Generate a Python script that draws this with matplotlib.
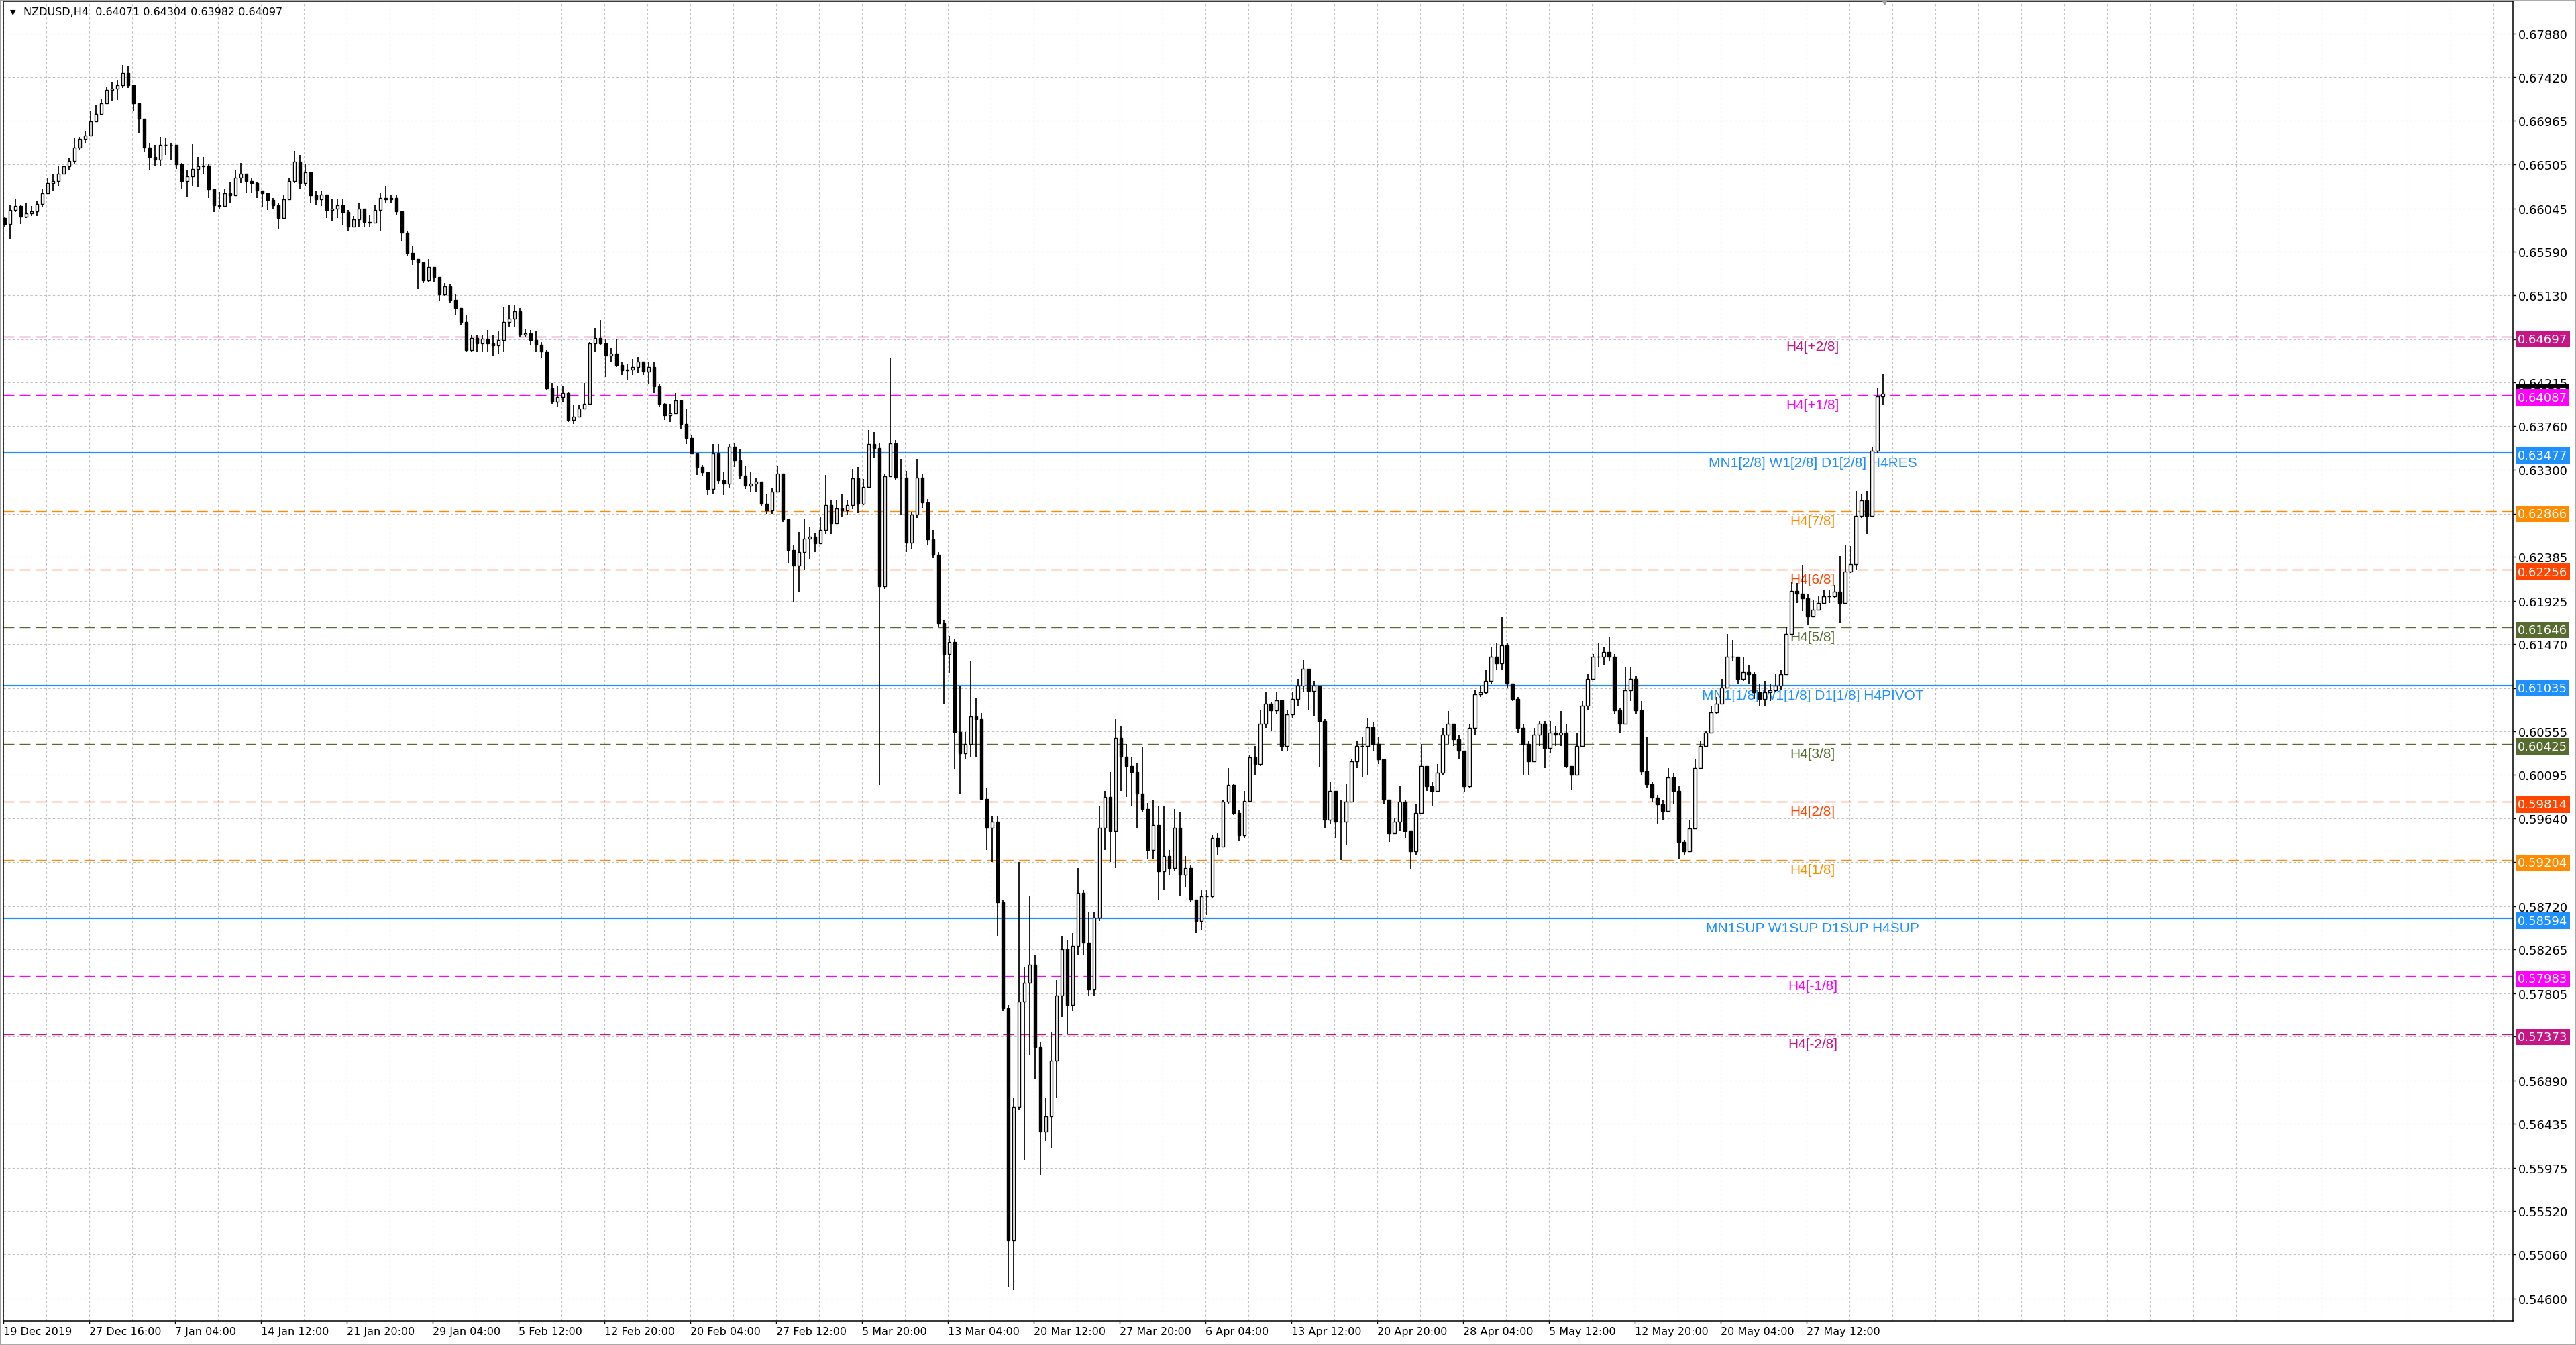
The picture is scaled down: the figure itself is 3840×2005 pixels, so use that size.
import matplotlib
matplotlib.use("Agg")
import matplotlib.pyplot as plt
from matplotlib.transforms import blended_transform_factory
from matplotlib.patches import Rectangle

header = "NZDUSD,H4  0.64071 0.64304 0.63982 0.64097"

# one candle per two H4 bars, prices in 1e-5
first_open = 65942
closes = [
    65879, 66030, 66068, 65955, 65992, 66017, 66093, 66206, 66307, 66332, 66407, 66483, 66545, 66684, 66772, 66809,
    66960, 67036, 67149, 67287, 67300, 67337, 67463, 67337, 67149, 66985, 66684, 66583, 66558, 66709, 66709, 66709,
    66508, 66332, 66382, 66457, 66483, 66495, 66244, 66080, 66068, 66206, 66181, 66369, 66407, 66332, 66307, 66231,
    66206, 66131, 66080, 65942, 66143, 66332, 66533, 66307, 66420, 66181, 66143, 66193, 66030, 66043, 66080, 66005,
    65854, 65930, 66043, 65904, 65892, 66030, 66156, 66143, 66156, 66017, 65791, 65578, 65515, 65477, 65288, 65427,
    65326, 65138, 65226, 65087, 64999, 64850, 64556, 64685, 64626, 64673, 64626, 64603, 64662, 64850, 64885, 64968,
    64720, 64732, 64662, 64615, 64544, 64155, 64014, 64061, 64108, 63826, 63861, 63943, 63990, 64626, 64685, 64626,
    64497, 64520, 64403, 64344, 64355, 64379, 64438, 64332, 64379, 64179, 63990, 63873, 63896, 64026, 63778, 63637,
    63472, 63331, 63272, 63096, 63472, 63190, 63154, 63543, 63402, 63237, 63131, 63154, 63178, 62942, 62872, 63072,
    63260, 62778, 62460, 62295, 62436, 62577, 62601, 62530, 62672, 62931, 62742, 62895, 62872, 62931, 63213, 62942,
    63119, 63567, 63531, 62080, 63233, 63578, 63220, 63220, 62536, 62829, 63220, 62959, 62569, 62406, 61689, 61364,
    61494, 60550, 60322, 60419, 60712, 60680, 59846, 59540, 59605, 58759, 57651, 55209, 56609, 57717, 57912, 58107,
    57241, 56349, 56512, 57098, 57782, 58270, 57684, 58303, 58856, 58335, 57847, 58596, 59540, 59866, 59508, 60485,
    60289, 60191, 60126, 59898, 59736, 59312, 59573, 59084, 59247, 59117, 59540, 59052, 59117, 58791, 58563, 58824,
    58824, 59439, 59345, 59814, 59990, 59697, 59462, 59826, 60284, 60213, 60636, 60847, 60777, 60883, 60401, 60730,
    60894, 61035, 61211, 60977, 61035, 60660, 59627, 59932, 59603, 59603, 59814, 60237, 60401, 60401, 60601, 60425,
    60260, 59838, 59486, 59603, 59814, 59509, 59298, 59697, 60190, 59979, 59932, 60120, 60519, 60636, 60472, 60354,
    59979, 60589, 60941, 60965, 61082, 61341, 61270, 61458, 61059, 60894, 60589, 60425, 60237, 60519, 60636, 60378,
    60542, 60519, 60542, 60190, 60096, 60401, 60824, 61106, 61341, 61341, 61388, 61341, 60777, 60636, 60988, 61106,
    60777, 60131, 60002, 59861, 59791, 59720, 60073, 59932, 59392, 59298, 59533, 60167, 60401, 60542, 60754, 60847,
    61012, 61341, 61341, 61106, 61176, 61153, 60965, 60894, 60965, 60988, 61035, 61153, 61575, 62030, 62000, 61950,
    61763, 61834, 61904, 61975, 61975, 62022, 61904, 62229, 62311, 62817, 62981, 62817, 63498, 64071, 64097,
]
highs = [
    65955, 66080, 66143, 66080, 66105, 66068, 66118, 66244, 66369, 66407, 66483, 66495, 66571, 66784, 66797, 66860,
    67073, 67136, 67199, 67325, 67375, 67388, 67551, 67538, 67249, 67136, 66985, 66734, 66709, 66797, 66784, 66734,
    66709, 66520, 66445, 66721, 66583, 66583, 66508, 66206, 66219, 66256, 66319, 66445, 66520, 66407, 66357, 66319,
    66231, 66206, 66156, 66105, 66193, 66369, 66646, 66608, 66508, 66420, 66231, 66231, 66156, 66143, 66143, 66143,
    66030, 65967, 66105, 65992, 65980, 66080, 66206, 66281, 66193, 66181, 65955, 65804, 65653, 65502, 65452, 65515,
    65376, 65326, 65263, 65251, 65138, 64980, 64921, 64709, 64720, 64720, 64768, 64720, 64756, 65015, 65027, 65027,
    65003, 64779, 64768, 64756, 64638, 64556, 64214, 64179, 64179, 64120, 63979, 63979, 64214, 64638, 64791, 64874,
    64673, 64579, 64673, 64438, 64414, 64461, 64485, 64414, 64426, 64426, 64202, 64002, 63990, 64108, 64038, 63943,
    63672, 63449, 63355, 63260, 63567, 63567, 63284, 63567, 63578, 63519, 63343, 63284, 63213, 63072, 63048, 63107,
    63343, 63237, 62625, 62507, 62648, 62778, 62695, 62636, 62813, 63249, 62978, 62978, 63048, 62978, 63307, 63331,
    63201, 63720, 63696, 63578, 63253, 64470, 63611, 63415, 63285, 62862, 63415, 63253, 62992, 62666, 62438, 61722,
    61559, 61527, 61038, 60550, 61299, 60908, 60745, 59963, 59670, 59670, 58791, 57684, 56707, 59182, 58075, 58824,
    58205, 57293, 56707, 57391, 57945, 58400, 58368, 58433, 59117, 58889, 58661, 58661, 59768, 59931, 60126, 60680,
    60615, 60419, 60289, 60224, 60387, 59801, 59833, 59768, 59768, 59312, 59736, 59703, 59247, 59149, 58791, 58889,
    58889, 59462, 59486, 59838, 60167, 60002, 59732, 59932, 60307, 60401, 60777, 60965, 60859, 60965, 60871, 60777,
    60965, 61106, 61305, 61071, 61082, 61012, 60683, 60026, 59744, 59838, 60002, 60260, 60448, 60495, 60695, 60648,
    60495, 60260, 59838, 59650, 59979, 59838, 59509, 59791, 60425, 60096, 60026, 60213, 60589, 60765, 60636, 60519,
    60354, 60636, 60988, 61035, 61200, 61434, 61481, 61751, 61481, 61059, 60918, 60636, 60448, 60589, 60660, 60660,
    60660, 60613, 60765, 60636, 60190, 60542, 60871, 61153, 61364, 61481, 61434, 61552, 61364, 60801, 61235, 61223,
    61141, 60871, 60495, 60026, 59885, 59838, 60167, 60120, 59979, 59415, 59627, 60260, 60448, 60566, 60824, 60918,
    61106, 61575, 61517, 61317, 61341, 61247, 61176, 61059, 61082, 61059, 61153, 61200, 61646, 62120, 62110, 62300,
    61990, 61928, 61975, 62045, 62045, 62092, 62394, 62511, 62499, 63075, 63052, 63075, 63545, 64157, 64304,
]
lows = [
    65854, 65728, 66005, 65879, 65942, 65967, 65967, 66055, 66231, 66231, 66281, 66407, 66445, 66508, 66659, 66734,
    66847, 66948, 67061, 67161, 67174, 67186, 67312, 67312, 67061, 66834, 66633, 66445, 66483, 66495, 66608, 66558,
    66457, 66244, 66168, 66281, 66269, 66407, 66156, 66005, 66043, 66080, 66105, 66307, 66307, 66206, 66206, 66156,
    66055, 66030, 66043, 65829, 65930, 66131, 66307, 66256, 66281, 66105, 66080, 66068, 65942, 65917, 65942, 65867,
    65804, 65842, 65842, 65842, 65842, 65904, 65804, 66105, 66105, 65980, 65703, 65552, 65452, 65200, 65263, 65276,
    65276, 65075, 65125, 65050, 64924, 64815, 64544, 64544, 64532, 64532, 64532, 64497, 64520, 64532, 64803, 64803,
    64697, 64697, 64615, 64532, 64473, 64144, 63990, 63955, 64014, 63802, 63778, 63861, 63943, 63979, 64532, 64603,
    64273, 64426, 64379, 64297, 64238, 64297, 64320, 64297, 64202, 64108, 63955, 63826, 63802, 63884, 63731, 63567,
    63461, 63249, 63237, 63037, 63048, 63154, 63037, 63107, 63331, 63201, 63096, 63072, 63072, 62919, 62836, 62836,
    63166, 62754, 62318, 61906, 62012, 62248, 62365, 62436, 62542, 62625, 62625, 62766, 62813, 62825, 62884, 62848,
    62931, 63119, 63425, 59996, 62048, 63233, 63187, 62829, 62438, 62471, 62797, 62894, 62504, 62373, 61657, 60843,
    61168, 60159, 59898, 60257, 60289, 60289, 59833, 59312, 59182, 58400, 57619, 54721, 54688, 56577, 56056, 57163,
    56902, 55893, 56251, 56186, 56707, 57554, 57371, 57619, 58205, 58205, 57782, 57782, 58563, 59312, 59182, 59117,
    59931, 59866, 59768, 59540, 59703, 59215, 59215, 58791, 58889, 59052, 59084, 58824, 58921, 58759, 58433, 58466,
    58628, 58805, 59251, 59392, 59791, 59673, 59403, 59439, 59814, 60096, 60190, 60589, 60566, 60730, 60354, 60354,
    60695, 60824, 60965, 60777, 60718, 60178, 59533, 59580, 59439, 59204, 59368, 59979, 60167, 60073, 60096, 60354,
    60213, 59791, 59392, 59509, 59509, 59439, 59110, 59251, 59720, 59932, 59767, 59932, 60096, 60425, 60401, 60260,
    59920, 59967, 60519, 60918, 60941, 61059, 61200, 61200, 61012, 60871, 60542, 60096, 60096, 60354, 60401, 60167,
    60331, 60401, 60401, 60167, 59944, 60096, 60495, 60777, 61129, 61223, 61247, 61294, 60730, 60542, 60730, 60871,
    60730, 60096, 59955, 59814, 59580, 59627, 59791, 59791, 59216, 59251, 59368, 59533, 60260, 60425, 60542, 60730,
    60871, 61200, 61294, 61059, 61082, 61059, 60894, 60824, 60824, 60871, 60965, 60988, 61153, 61575, 61900, 61820,
    61669, 61763, 61834, 61928, 61904, 61951, 61693, 61904, 62217, 62252, 62793, 62629, 62934, 63475, 63982,
]

date_labels = ["19 Dec 2019", "27 Dec 16:00", "7 Jan 04:00", "14 Jan 12:00", "21 Jan 20:00", "29 Jan 04:00",
               "5 Feb 12:00", "12 Feb 20:00", "20 Feb 04:00", "27 Feb 12:00", "5 Mar 20:00", "13 Mar 04:00",
               "20 Mar 12:00", "27 Mar 20:00", "6 Apr 04:00", "13 Apr 12:00", "20 Apr 20:00", "28 Apr 04:00",
               "5 May 12:00", "12 May 20:00", "20 May 04:00", "27 May 12:00"]

price_ticks = [0.67880, 0.67420, 0.66965, 0.66505, 0.66045, 0.65590, 0.65130, 0.64670, 0.64215, 0.63760,
               0.63300, 0.62840, 0.62385, 0.61925, 0.61470, 0.61010, 0.60555, 0.60095, 0.59640, 0.59180,
               0.58720, 0.58265, 0.57805, 0.57350, 0.56890, 0.56435, 0.55975, 0.55520, 0.55060, 0.54600]
hidden_ticks = [0.64670, 0.62840, 0.61010, 0.59180, 0.57350]

level_prices = [0.64697, 0.64087, 0.63477, 0.62866, 0.62256, 0.61646, 0.61035,
                0.60425, 0.59814, 0.59204, 0.58594, 0.57983, 0.57373]
level_names = ["H4[+2/8]", "H4[+1/8]", "MN1[2/8] W1[2/8] D1[2/8] H4RES", "H4[7/8]", "H4[6/8]", "H4[5/8]",
               "MN1[1/8] W1[1/8] D1[1/8] H4PIVOT", "H4[3/8]", "H4[2/8]", "H4[1/8]",
               "MN1SUP W1SUP D1SUP H4SUP", "H4[-1/8]", "H4[-2/8]"]
level_colors = ["#C71585", "#FF00FF", "#1E90FF", "#FF8C00", "#FF4500", "#556B2F", "#1E90FF",
                "#556B2F", "#FF4500", "#FF8C00", "#1E90FF", "#FF00FF", "#C71585"]
bid_price = 0.64097

plt.rcParams['font.family'] = ['DejaVu Sans']

W, H = 3840, 2006
fig = plt.figure(figsize=(W / 100, H / 100), dpi=100, facecolor='white')
ax = fig.add_axes([5 / W, 36 / H, 3741 / W, 1967 / H])
ax.set_facecolor('white')

# candles
n = len(closes)
c = [v / 1e5 for v in closes]
o = [first_open / 1e5] + c[:-1]
hi = [max(highs[i] / 1e5, o[i], c[i]) for i in range(n)]
lo = [min(lows[i] / 1e5, o[i], c[i]) for i in range(n)]
xs = list(range(n))

ax.vlines(xs, lo, hi, color='black', lw=1.25, zorder=3)
bull = [i for i in xs if c[i] >= o[i]]
bear = [i for i in xs if c[i] < o[i]]
ax.bar(bull, [c[i] - o[i] for i in bull], bottom=[o[i] for i in bull], width=0.6,
       color='white', edgecolor='black', linewidth=1.0, zorder=4)
ax.bar(bear, [o[i] - c[i] for i in bear], bottom=[c[i] for i in bear], width=0.6,
       color='black', edgecolor='black', linewidth=1.0, zorder=4)

ax.set_xlim(-0.25, 467.4)
ax.set_ylim(0.54366, 0.68218)

# level lines and names
label_x = 336.9
for p, name, col in zip(level_prices, level_names, level_colors):
    if col == "#1E90FF":
        ax.axhline(p, color=col, lw=1.6, zorder=2)
    else:
        ax.axhline(p, color=col, lw=1.0, linestyle=(0, (11.5, 5.8)), zorder=2)
    ax.annotate(name, xy=(label_x, p), xytext=(0, -5), textcoords='offset pixels',
                ha='center', va='top', color=col, fontsize=15,
                family=['Liberation Sans', 'DejaVu Sans'], zorder=2.5)

ax.axhline(bid_price, color='#C0C0C0', lw=0.8, zorder=1.8)

# axes, ticks, grid
ax.yaxis.tick_right()
ax.set_yticks(price_ticks)
ax.set_yticklabels(["" if t in hidden_ticks else "%.5f" % t for t in price_ticks])
ax.set_xticks([16 * k - 0.25 for k in range(len(date_labels))])
ax.set_xticklabels(date_labels)
ax.set_xticks([8 * m - 0.25 for m in range(59)], minor=True)
for lab in ax.get_xticklabels():
    lab.set_ha('left')
ax.tick_params(axis='y', length=3, width=1, pad=3, labelsize=13, colors='black')
ax.tick_params(axis='x', which='major', length=3, width=1, pad=3, labelsize=11.5, colors='black')
ax.tick_params(axis='x', which='minor', length=0)
ax.grid(True, which='both', axis='x', color='#C0C0C0', linestyle=(0, (3, 3)), lw=0.8, zorder=0)
ax.grid(True, which='major', axis='y', color='#C0C0C0', linestyle=(0, (3, 3)), lw=0.8, zorder=0)
ax.set_axisbelow(True)
for s in ax.spines.values():
    s.set_color('black')
    s.set_linewidth(1.1)

# price boxes on the right
tr = blended_transform_factory(ax.transAxes, ax.transData)
box_items = [(bid_price + 0.0004, "0.64097", "black")]
box_items += [(p, "%.5f" % p, col) for p, col in zip(level_prices, level_colors)]
for p, txt, col in box_items:
    ax.annotate(txt, xy=(1, p), xycoords=tr, xytext=(7, -4), textcoords='offset pixels',
                ha='left', va='center', color='white', fontsize=13, annotation_clip=False,
                bbox=dict(boxstyle='square,pad=0.18', fc=col, ec='none'), zorder=10)

# header and shift marker
ax.text(10 / 3741, 1 - 16 / 1967, "\u25BC", transform=ax.transAxes, fontsize=8, va='center', ha='left')
ax.text(30 / 3741, 1 - 16 / 1967, header, transform=ax.transAxes, fontsize=11.5, va='center', ha='left')
ax.plot([350.25], [0.68218], marker='v', color='#A0A0A0', ms=7, clip_on=False, zorder=11)

fig.patches.append(Rectangle((0, 0), 1, 1, transform=fig.transFigure, fill=False,
                             edgecolor='#A0A0A0', linewidth=2))

fig.savefig("out.png", dpi=100, facecolor='white')
